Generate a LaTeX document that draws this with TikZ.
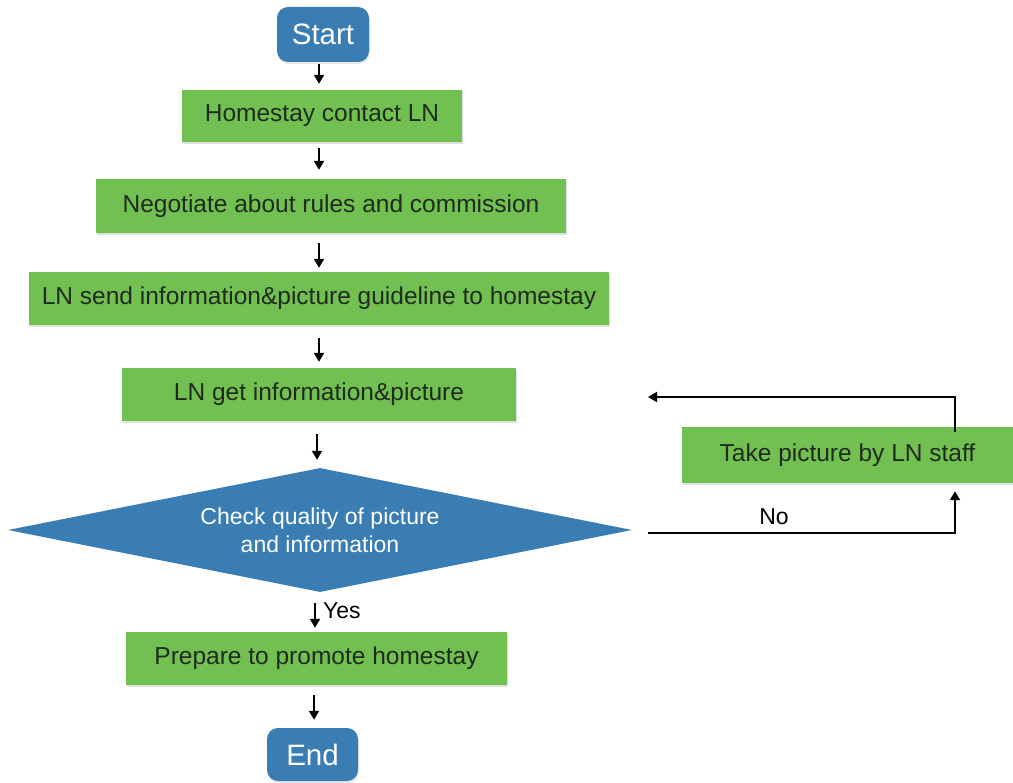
\documentclass[tikz,border=0pt]{standalone}
\usepackage{fontspec}
\setmainfont{Liberation Sans}
\usetikzlibrary{shapes.geometric,arrows.meta,shadows}
\definecolor{boxgreen}{HTML}{72C052}
\definecolor{termblue}{HTML}{3A7DB3}
\definecolor{txtdark}{HTML}{1F2B1C}
\begin{document}
\begin{tikzpicture}[x=1pt,y=-1pt,
  procbox/.style={rectangle, fill=boxgreen, text=txtdark, inner sep=0pt,
    font=\fontsize{24.5}{28}\selectfont,
    drop shadow={opacity=0.25, shadow xshift=1pt, shadow yshift=-2pt}},
  terminal/.style={rectangle, rounded corners=11pt, fill=termblue, text=white,
    inner sep=0pt, font=\fontsize{29.5}{34}\selectfont,
    drop shadow={opacity=0.2, shadow xshift=1pt, shadow yshift=-2pt}},
  decision/.style={diamond, aspect=5, fill=termblue, text=white, inner sep=0pt,
    align=center, font=\fontsize{23}{28}\selectfont},
  arr/.style={draw=black, line width=1.8pt, -{Triangle[length=9pt,width=10pt]}},
  lbl/.style={text=black, font=\fontsize{23}{26}\selectfont, inner sep=0pt}]
\useasboundingbox (0,0) rectangle (1013,783);

% flow nodes
\node[terminal, minimum width=92pt, minimum height=55pt] (start) at (323,34.5) {Start};
\node[procbox, minimum width=280pt, minimum height=52pt] (b1) at (322,116) {Homestay contact LN};
\node[procbox, minimum width=470pt, minimum height=54pt] (b2) at (331,206) {Negotiate about rules and commission};
\node[procbox, minimum width=580pt, minimum height=53pt] (b3) at (319,298.5) {LN send information\&picture guideline to homestay};
\node[procbox, minimum width=394pt, minimum height=53pt] (b4) at (319,394.5) {LN get information\&picture};
\node[decision, minimum width=624pt, minimum height=124pt] (dia) at (320,530) {Check quality of picture\\and information};
\node[procbox, minimum width=381pt, minimum height=53pt] (prep) at (316.5,658.5) {Prepare to promote homestay};
\node[terminal, minimum width=91pt, minimum height=53pt] (endn) at (312.5,754.5) {End};
\node[procbox, minimum width=331pt, minimum height=56pt] (take) at (847.5,455) {Take picture by LN staff};

% columns used by the vertical arrows
\coordinate (c319) at (319,0);
\coordinate (c317) at (317,0);
\coordinate (c315) at (315,0);
\coordinate (c314) at (314,0);
\coordinate (c955) at (955,0);

% main flow
\draw[arr, shorten <=2pt, shorten >=6pt] (start.south -| c319) -- (b1.north -| c319);
\draw[arr, shorten <=6pt, shorten >=9pt] (b1.south -| c319) -- (b2.north -| c319);
\draw[arr, shorten <=10pt, shorten >=4pt] (b2.south -| c319) -- (b3.north -| c319);
\draw[arr, shorten <=13pt, shorten >=6pt] (b3.south -| c319) -- (b4.north -| c319);
\draw[arr, shorten <=13pt, shorten >=8pt] (b4.south -| c317) -- (dia.north -| c317);
\draw[arr, shorten <=11pt, shorten >=4pt] (dia.south -| c315) -- (prep.north -| c315);
\draw[arr, shorten <=10pt, shorten >=8pt] (prep.south -| c314) -- (endn.north -| c314);
\node[lbl, anchor=west] (yes) at (323,611) {Yes};

% "No" branch and return loop
\coordinate (noout) at (648,533);
\coordinate (backin) at (648,397);
\draw[arr, shorten >=8pt] (noout) -| (take.south -| c955);
\node[lbl] (no) at (774,517) {No};
\draw[arr, shorten <=-5pt] (take.north -| c955) |- (backin);
\end{tikzpicture}
\end{document}
